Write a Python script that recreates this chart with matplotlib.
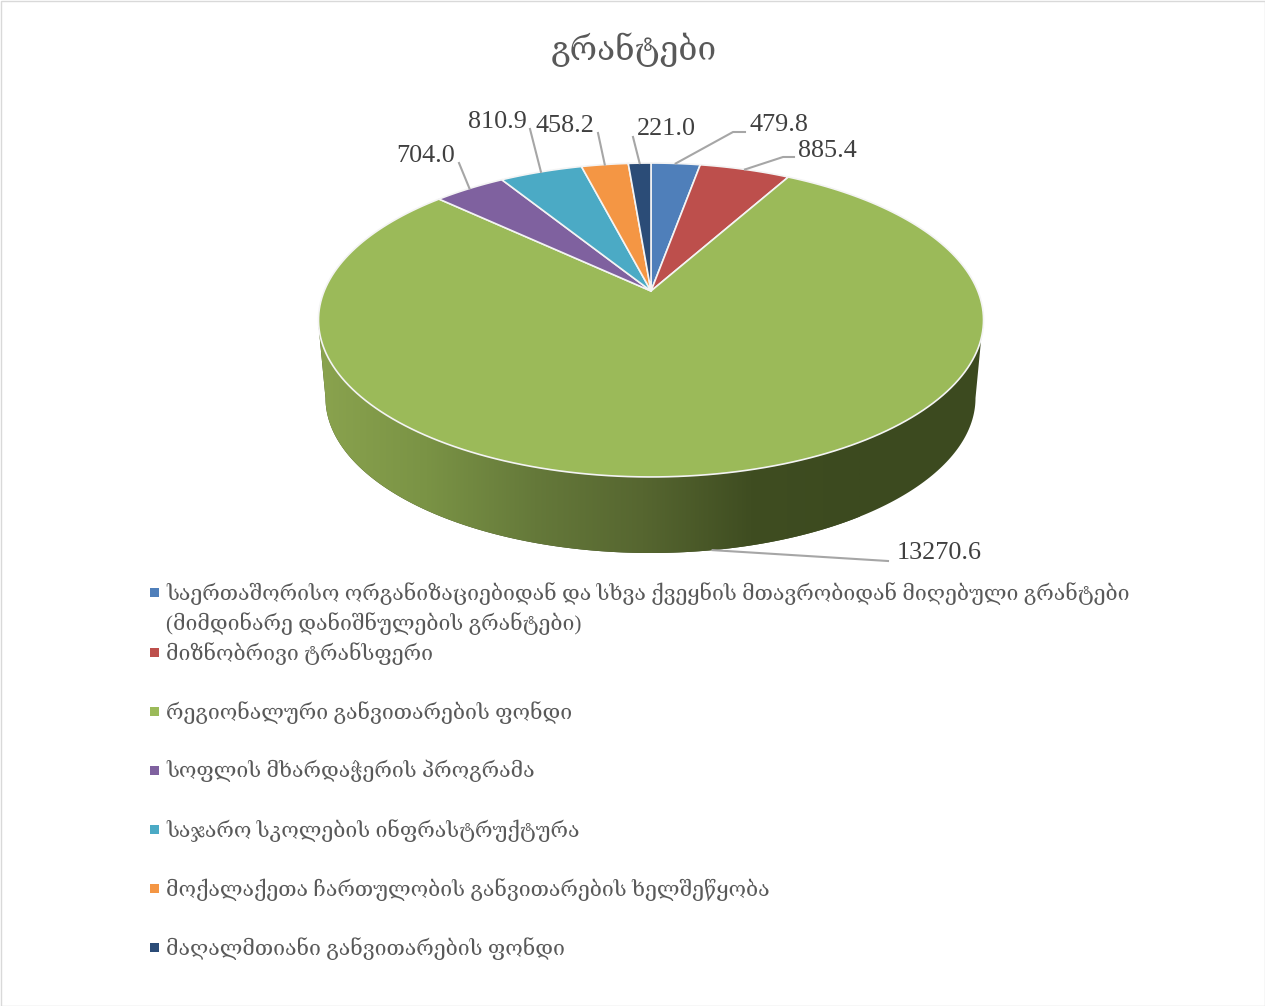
import matplotlib
matplotlib.use("Agg")
import matplotlib.pyplot as plt
from matplotlib.colors import LinearSegmentedColormap
from matplotlib.patches import Polygon, Rectangle
import numpy as np

title = "გრანტები"
categories = [
    "საერთაშორისო ორგანიზაციებიდან და სხვა ქვეყნის მთავრობიდან მიღებული გრანტები\n(მიმდინარე დანიშნულების გრანტები)",
    "მიზნობრივი ტრანსფერი",
    "რეგიონალური განვითარების ფონდი",
    "სოფლის მხარდაჭერის პროგრამა",
    "საჯარო სკოლების ინფრასტრუქტურა",
    "მოქალაქეთა ჩართულობის განვითარების ხელშეწყობა",
    "მაღალმთიანი განვითარების ფონდი",
]
values = [479.8, 885.4, 13270.6, 704.0, 810.9, 458.2, 221.0]
colors = ["#4f7fba", "#bd4f4c", "#9bba59", "#7f619f", "#4baac5", "#f49644", "#2b4c77"]

# where the value labels sit, in pixels: (text x, text y, ha, leader elbow or None, leader end)
label_layout = [
    (749, 125, "left", (733, 132), (745, 132)),
    (798, 151, "left", (783, 157), (794, 157)),
    (897, 553, "left", None, (888, 561)),
    (426, 156, "center", None, (459, 163)),
    (497, 122, "center", None, (530, 129)),
    (565, 126, "center", None, (598, 133)),
    (666, 129, "center", None, (633, 137)),
]
legend_y = [594, 654, 713, 772, 831, 890, 949]

# the tilted disc is a circle seen in perspective, apex is not the ellipse centre
apex_x, apex_y = 651, 291
persp = 0.1847
scale_x, scale_y = 326.8, 151.6

# lower edge of the side wall
wall_cx, wall_cy, wall_a, wall_b = 650.5, 398, 325, 155

wall_stops = ["#8aa34e", "#7a9345", "#65793a", "#566630", "#3f4d21", "#3c4a1f"]

SERIF = ["Liberation Serif", "DejaVu Serif", "DejaVu Sans"]


def rim(theta):
    # theta is clockwise from the top, radians
    u, v = np.sin(theta), np.cos(theta)
    d = 1 + persp * v
    return apex_x + scale_x * u / d, apex_y - scale_y * v / d


fig = plt.figure(figsize=(12.65, 10.06), dpi=100)
ax = fig.add_axes([0, 0, 1, 1])
ax.axis("off")

ax.add_patch(Rectangle((0.5, 0.5), 1264, 1005, fc="white", ec="#d9d9d9", lw=1, zorder=0))

# side wall with its horizontal shading
t = np.linspace(np.pi, 0, 200)
wall_pts = [(318, 320)] + list(zip(wall_cx + wall_a * np.cos(t), wall_cy + wall_b * np.sin(t))) + [(983, 320)]
ax.add_patch(Polygon(wall_pts, closed=True, fc="#3c4a1f", ec="none", zorder=0.5))
wall_poly = Polygon(wall_pts, closed=True, fc="none", ec="none")
ax.add_patch(wall_poly)
cmap = LinearSegmentedColormap.from_list("wall", wall_stops)
img = ax.imshow(np.linspace(0, 1, 256).reshape(1, -1), cmap=cmap, aspect="auto",
                extent=(318, 860, 560, 310), zorder=1)
img.set_clip_path(wall_poly)
ax.set_xlim(0, 1265)
ax.set_ylim(1006, 0)

# top face
fractions = np.array(values) / sum(values)
edges = np.concatenate([[0], np.cumsum(fractions)]) * 2 * np.pi
for i, col in enumerate(colors):
    th = np.linspace(edges[i], edges[i + 1], 200)
    xs, ys = rim(th)
    ax.fill(np.r_[apex_x, xs], np.r_[apex_y, ys], fc=col, ec="#f4f4f4", lw=1.2, zorder=2, joinstyle="round")

# value labels and leaders
mids = (edges[:-1] + edges[1:]) / 2
for i, val in enumerate(values):
    tx, ty, ha, elbow, end = label_layout[i]
    x0, y0 = rim(mids[i])
    if y0 > apex_y:
        # front slice: leader starts from the bottom of the wall
        y0 = wall_cy + wall_b * np.sqrt(1 - ((x0 - wall_cx) / wall_a) ** 2)
    px = [x0] + ([elbow[0]] if elbow else []) + [end[0]]
    py = [y0] + ([elbow[1]] if elbow else []) + [end[1]]
    ax.plot(px, py, color="#a6a6a6", lw=1.5, zorder=3)
    ax.text(tx, ty, f"{val:.1f}", ha=ha, va="center", fontsize=18.8, color="#404040",
            family=SERIF, zorder=4)

ax.text(634, 50, title, ha="center", va="center", fontsize=24, color="#595959", family=SERIF)

# legend
for i, cat in enumerate(categories):
    ax.add_patch(Rectangle((150, legend_y[i] - 6), 8.5, 8.5, fc=colors[i], ec="none"))
    ax.text(166, legend_y[i] - 12, cat, ha="left", va="top", fontsize=15.35, color="#595959",
            family=SERIF, linespacing=1.4)

fig.savefig("out.png", dpi=100)
